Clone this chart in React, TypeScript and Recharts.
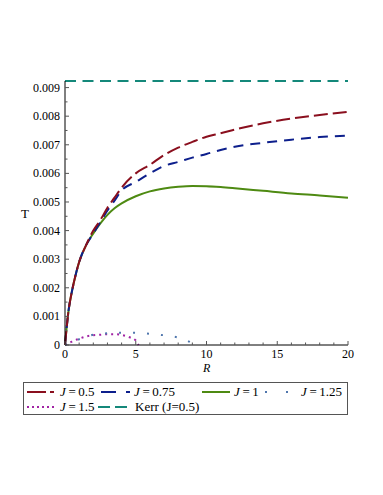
import React from 'react';
import { LineChart, Line, XAxis, YAxis } from 'recharts';

// shared R grid for the three main curves
const rMain = [0, 0.25, 0.5, 0.75, 1, 1.5, 2, 2.5, 3, 3.5, 4, 5, 6, 7, 8, 9, 10, 11, 12, 14, 16, 18, 20];
const tJ05 = [0, 0.0012, 0.0019, 0.00245, 0.0029, 0.0035, 0.004, 0.00437, 0.0048, 0.00515, 0.0055, 0.006, 0.0063, 0.00664, 0.0069, 0.0071, 0.00728, 0.0074, 0.00753, 0.00775, 0.00792, 0.00804, 0.00815];
const tJ075 = [0, 0.0012, 0.0019, 0.00245, 0.0029, 0.0035, 0.0039, 0.0043, 0.0047, 0.00505, 0.0054, 0.0057, 0.006, 0.00626, 0.0064, 0.00655, 0.00668, 0.00682, 0.00693, 0.00707, 0.00718, 0.00727, 0.00732];
const tJ1 = [0, 0.0012, 0.0019, 0.00245, 0.0029, 0.0035, 0.0039, 0.00425, 0.00455, 0.00478, 0.00495, 0.0052, 0.00537, 0.00547, 0.00553, 0.00556, 0.00555, 0.00552, 0.00548, 0.00539, 0.0053, 0.00523, 0.00515];

const rJ125 = [0, 0.5, 1, 2, 3, 4, 5, 6, 7, 8, 9, 9.2];
const tJ125 = [0, 0.00012, 0.0002, 0.00036, 0.00041, 0.00043, 0.00043, 0.00039, 0.00034, 0.00026, 0.00006, 0];

const rJ15 = [0, 0.5, 1, 1.5, 2, 2.5, 3, 3.5, 4, 4.5, 5, 5.2];
const tJ15 = [0, 0.00012, 0.00022, 0.0003, 0.00034, 0.00036, 0.00038, 0.00038, 0.00035, 0.00028, 0.00016, 0];

const rKerr = [0, 20];
const tKerr = [0.00923, 0.00923];

const xTicks = Array.from({ length: 21 }, (_, i) => i);
const yTicks = Array.from({ length: 19 }, (_, i) => i * 0.0005);

const zip = (r: number[], t: number[]) => r.map((R, i) => ({ R, T: t[i] }));

const colors = {
  j05: '#8a0f1e',
  j075: '#0d1f8c',
  j1: '#4e8a12',
  j125: '#4f76ad',
  j15: '#a124a4',
  kerr: '#14887a',
};

const font = '"Liberation Serif", "DejaVu Serif", serif';

const margin = { top: 81, right: 35, bottom: 120, left: 20 };
const yAxisWidth = 45;
const xAxisHeight = 30;
const plotLeft = margin.left + yAxisWidth;
const plotBottom = 495 - margin.bottom - xAxisHeight;

const XTick = (props: any) => {
  const { payload } = props;
  const x = payload.coordinate;
  const y = plotBottom;
  const major = payload.value % 5 === 0;
  return (
    <g>
      <line x1={x} x2={x} y1={y} y2={y - (major ? 4 : 2.5)} stroke="#555" />
      {major && (
        <text x={x} y={y + 13} textAnchor="middle" fontSize={12} fontFamily={font} fill="#000">
          {payload.value}
        </text>
      )}
    </g>
  );
};

const YTick = (props: any) => {
  const { payload, index } = props;
  const x = plotLeft;
  const y = payload.coordinate;
  const major = index % 2 === 0;
  const label = payload.value === 0 ? '0' : payload.value.toFixed(3);
  return (
    <g>
      <line x1={x} x2={x + (major ? 4 : 2.5)} y1={y} y2={y} stroke="#555" />
      {major && (
        <text x={x - 5} y={y + 4} textAnchor="end" fontSize={12} fontFamily={font} fill="#000">
          {label}
        </text>
      )}
    </g>
  );
};

const Sample = ({ color, dash, width = 28 }: { color: string; dash?: string; width?: number }) => (
  <svg width={width} height={6} style={{ display: 'block' }}>
    <line x1={0} x2={width} y1={3} y2={3} stroke={color} strokeWidth={2} strokeDasharray={dash} />
  </svg>
);

const JLabel = ({ v }: { v: string }) => (
  <span>
    <i>J</i>
    {'\u2009=\u2009' + v}
  </span>
);

const legendItems = [
  { left: 3, top: 1, w: 29, color: colors.j05, dash: '19 4 4 2', label: <JLabel v="0.5" /> },
  { left: 77, top: 1, w: 29, color: colors.j075, dash: '15 10 4 20', label: <JLabel v="0.75" /> },
  { left: 178, top: 1, w: 28, color: colors.j1, label: <JLabel v="1" /> },
  { left: 241, top: 1, w: 23, color: colors.j125, dash: '2 19', label: <JLabel v="1.25" />, gap: 13 },
  { left: 3, top: 16, w: 27, color: colors.j15, dash: '2 3', label: <JLabel v="1.5" />, gap: 6 },
  { left: 74, top: 16, w: 31, color: colors.kerr, dash: '12 5', label: <span>Kerr (J=0.5)</span>, gap: 6 },
];

export default function App() {
  return (
    <div style={{ position: 'absolute', left: 0, top: 0, width: 383, height: 495, background: '#fff' }}>
      <LineChart width={383} height={495} margin={margin}>
        <XAxis
          type="number"
          dataKey="R"
          domain={[0, 20]}
          ticks={xTicks}
          interval={0}
          height={xAxisHeight}
          tickLine={false}
          axisLine={{ stroke: '#000', strokeWidth: 1 }}
          tick={<XTick />}
        />
        <YAxis
          type="number"
          dataKey="T"
          domain={[0, 0.00923]}
          ticks={yTicks}
          interval={0}
          width={yAxisWidth}
          tickLine={false}
          axisLine={{ stroke: '#000', strokeWidth: 1 }}
          tick={<YTick />}
        />
        <Line data={zip(rJ15, tJ15)} dataKey="T" type="monotone" stroke={colors.j15} strokeWidth={2} strokeDasharray="2 4" dot={false} isAnimationActive={false} />
        <Line data={zip(rJ125, tJ125)} dataKey="T" type="monotone" stroke={colors.j125} strokeWidth={2} strokeDasharray="2 12" dot={false} isAnimationActive={false} />
        <Line data={zip(rMain, tJ1)} dataKey="T" type="monotone" stroke={colors.j1} strokeWidth={2} dot={false} isAnimationActive={false} />
        <Line data={zip(rMain, tJ075)} dataKey="T" type="monotone" stroke={colors.j075} strokeWidth={2} strokeDasharray="10 7" dot={false} isAnimationActive={false} />
        <Line data={zip(rMain, tJ05)} dataKey="T" type="monotone" stroke={colors.j05} strokeWidth={2} strokeDasharray="14 5" dot={false} isAnimationActive={false} />
        <Line data={zip(rKerr, tKerr)} dataKey="T" type="linear" stroke={colors.kerr} strokeWidth={2} strokeDasharray="11 6.5" dot={false} isAnimationActive={false} />
      </LineChart>

      <div style={{ position: 'absolute', left: 21, top: 206, fontFamily: font, fontSize: 13 }}>T</div>
      <div style={{ position: 'absolute', left: 203, top: 362, fontFamily: font, fontSize: 12, fontStyle: 'italic', lineHeight: '13px' }}>R</div>

      <div
        style={{
          position: 'absolute',
          left: 23,
          top: 382,
          width: 323,
          height: 31,
          border: '1px solid #555',
          fontFamily: font,
          fontSize: 13,
          lineHeight: '15px',
        }}
      >
        {legendItems.map((it, i) => (
          <div
            key={i}
            style={{ position: 'absolute', left: it.left, top: it.top, display: 'flex', alignItems: 'center', whiteSpace: 'nowrap' }}
          >
            <Sample color={it.color} dash={it.dash} width={it.w} />
            <span style={{ marginLeft: it.gap ?? 4 }}>{it.label}</span>
          </div>
        ))}
      </div>
    </div>
  );
}
